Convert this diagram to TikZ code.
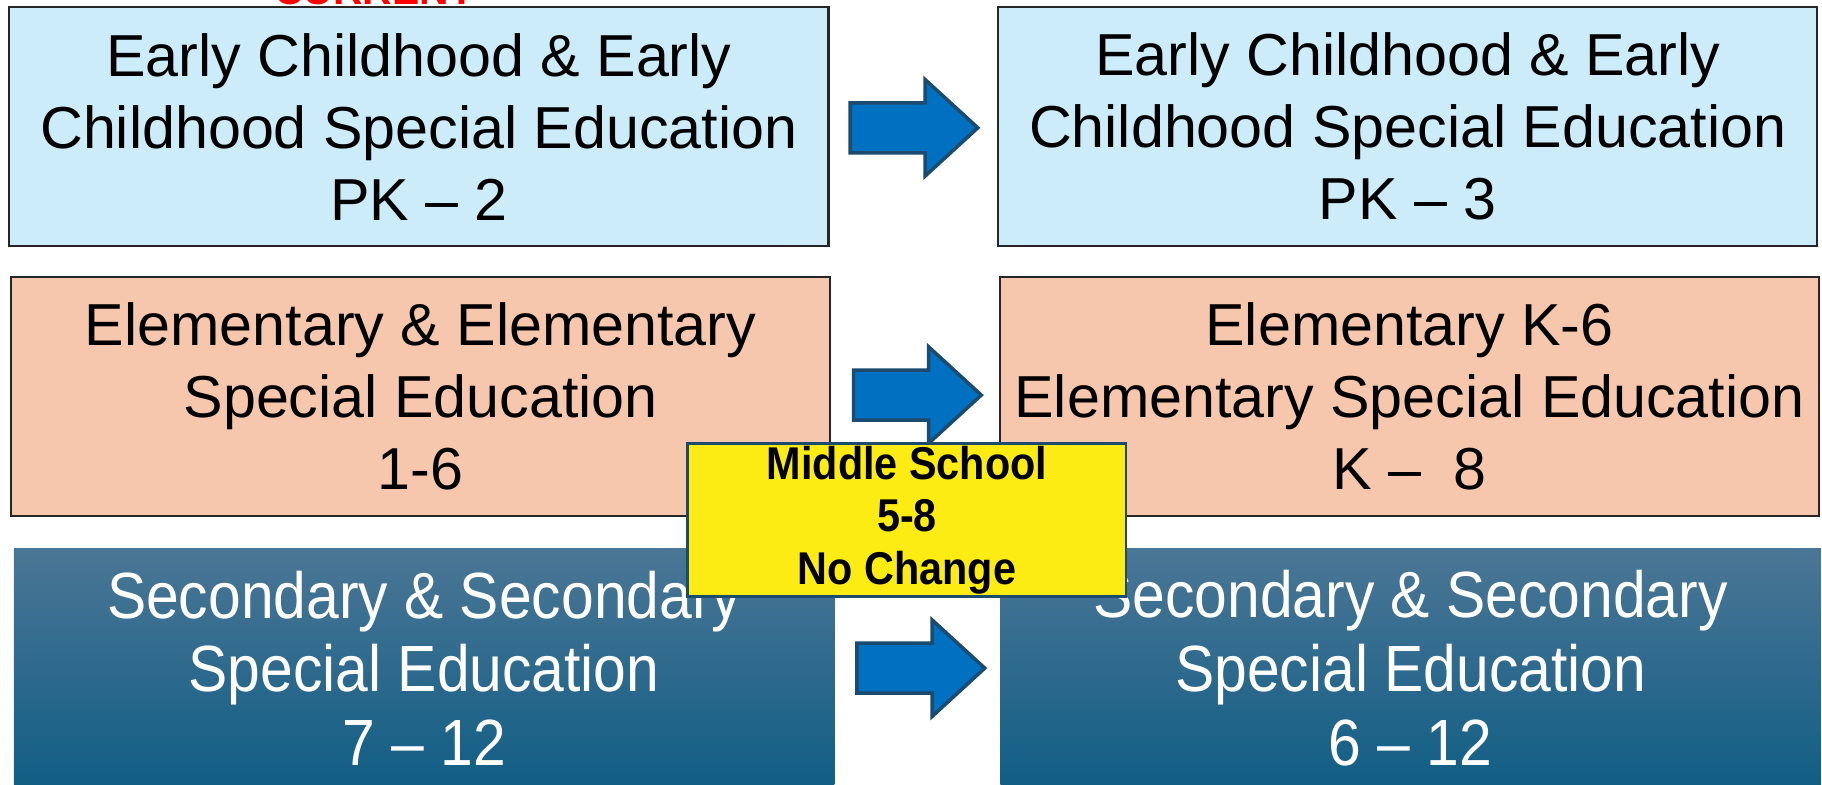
\documentclass[tikz,border=0pt]{standalone}
\usepackage{fontspec}
\setmainfont{Liberation Sans}
\newfontfamily\narrowfont[FakeStretch=0.9]{Liberation Sans}
\usepackage{xcolor}
\usetikzlibrary{shapes.arrows,positioning}

\definecolor{ecblue}{HTML}{CCECFA}
\definecolor{elpeach}{HTML}{F6C6AD}
\definecolor{sectop}{HTML}{4B7695}
\definecolor{secbot}{HTML}{115E85}
\definecolor{midyellow}{HTML}{FCEC13}
\definecolor{boxline}{HTML}{262626}
\definecolor{arrowfill}{HTML}{0070C0}
\definecolor{arrowline}{HTML}{1B4B6E}

\begin{document}
\begin{tikzpicture}[
    x=0.2mm, y=-0.2mm,
    cbox/.style={rectangle, draw=boxline, line width=0.35mm, align=center, text centered, inner sep=0pt, minimum width=141mm, minimum height=41.2mm, font=\fontsize{29}{35.3}\selectfont},
    secbox/.style={rectangle, top color=sectop, bottom color=secbot, inner sep=0pt, minimum width=141.2mm, minimum height=40.8mm},
    sectext/.style={align=center, text=white, font=\narrowfont\fontsize{32}{36}\selectfont},
    midbox/.style={rectangle, draw=arrowline, line width=0.5mm, fill=midyellow, align=center, inner sep=0pt, minimum width=75.4mm, minimum height=26.2mm, font=\narrowfont\bfseries\fontsize{22.5}{25.6}\selectfont},
    bigarrow/.style={single arrow, draw=arrowline, fill=arrowfill, line width=0.6mm, inner xsep=0pt, inner ysep=4mm, minimum height=22mm, single arrow head extend=4mm, single arrow tip angle=85, anchor=tail}
]
\useasboundingbox (0,0) rectangle (1568,675);

% Heading (cut off at the top)
\node[anchor=base, text=red, font=\bfseries\fontsize{20}{24}\selectfont] (curhead) at (322,4) {CURRENT};

% Early childhood row
\node[cbox, fill=ecblue] (cur1) at (360.5,109) {Early Childhood \& Early\\Childhood Special Education\\PK – 2};
\node[cbox, fill=ecblue] (new1) at (1211.5,109) {Early Childhood \& Early\\Childhood Special Education\\PK – 3};

% Elementary row
\node[cbox, fill=elpeach] (cur2) at (362,341) {Elementary \& Elementary\\Special Education\\1-6};
\node[cbox, fill=elpeach] (new2) at (1213,341) {Elementary K-6\\Elementary Special Education\\K –~~8};

% Secondary row
\node[secbox] (cur3) at (365,574) {};
\node[secbox] (new3) at (1214,574) {};
\node[sectext] (cur3text) at (365,575) {Secondary \& Secondary\\Special Education\\7 – 12};
\node[sectext] (new3text) at (1214,575) {Secondary \& Secondary\\Special Education\\6 – 12};

% Arrows
\node[bigarrow] (arr1) at (730,110) {};
\node[bigarrow] (arr2) at (733,340) {};
\node[bigarrow] (arr3) at (736,575) {};

% Middle school note
\node[midbox] (mid) at (780.5,447.5) {Middle School\\5-8\\No Change};

\end{tikzpicture}
\end{document}
